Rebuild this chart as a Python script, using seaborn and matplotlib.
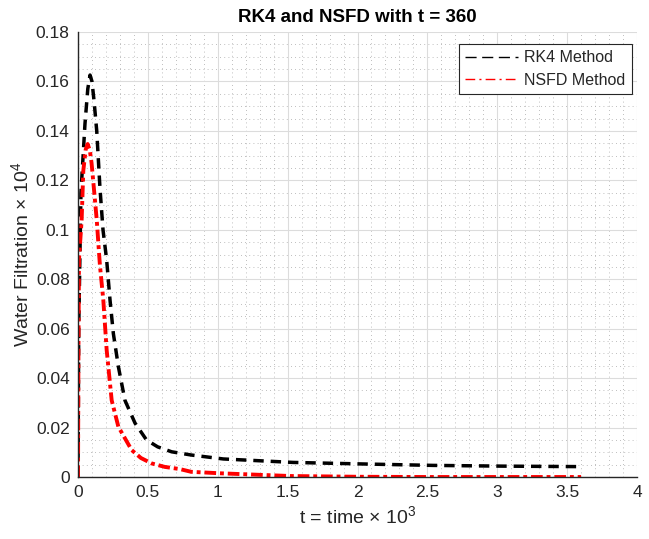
import matplotlib
matplotlib.use('Agg')
import matplotlib.pyplot as plt
from matplotlib.ticker import MultipleLocator
import pandas as pd
import seaborn as sns

# values (x in 10^3, y in 10^4)
rk4_t = [0.0, 0.005, 0.014, 0.021, 0.05, 0.07, 0.086, 0.1, 0.115, 0.134, 0.157, 0.179,
         0.205, 0.229, 0.253, 0.289, 0.336, 0.408, 0.49, 0.57, 0.67, 0.81, 1.04, 1.54,
         2.02, 2.54, 3.04, 3.6]
rk4_y = [0.0, 0.06, 0.0906, 0.115, 0.143, 0.157, 0.1626, 0.160, 0.152, 0.140, 0.117,
         0.0999, 0.0878, 0.0716, 0.058, 0.0446, 0.031, 0.0218, 0.015, 0.0122, 0.0102,
         0.0089, 0.0073, 0.0059, 0.0053, 0.0047, 0.0044, 0.0042]

nsfd_t = [0.0, 0.003, 0.007, 0.026, 0.038, 0.055, 0.069, 0.085, 0.097, 0.11, 0.134,
          0.15, 0.157, 0.181, 0.205, 0.241, 0.289, 0.384, 0.45, 0.527, 0.62, 0.73, 0.81,
          1.02, 1.52, 2.0, 2.5, 3.0, 3.6]
nsfd_y = [0.0, 0.05, 0.088, 0.104, 0.124, 0.1325, 0.1347, 0.132, 0.127, 0.119, 0.104,
          0.091, 0.0855, 0.0716, 0.0514, 0.031, 0.0203, 0.0109, 0.0077, 0.0055, 0.0041,
          0.0032, 0.0021, 0.0015, 0.0004, 0.0001, 0.0, 0.0, 0.0]

rk4 = pd.DataFrame({'t': rk4_t, 'y': rk4_y})
nsfd = pd.DataFrame({'t': nsfd_t, 'y': nsfd_y})

sns.set_style('white')
plt.rcParams['font.family'] = ['Liberation Sans', 'DejaVu Sans']
plt.rcParams['mathtext.fontset'] = 'custom'
plt.rcParams['mathtext.rm'] = 'Liberation Sans'

fig = plt.figure(figsize=(6.49, 5.39), dpi=100)
ax = fig.add_axes([0.1202, 0.115, 0.8613, 0.8256])

sns.lineplot(data=rk4, x='t', y='y', ax=ax, color='black', linewidth=2.5,
             linestyle=(0, (3, 2)), label='RK4 Method')
sns.lineplot(data=nsfd, x='t', y='y', ax=ax, color='red', linewidth=2.8,
             linestyle=(0, (3, 1, 1, 1)), label='NSFD Method')

ax.set_xlim(0, 4)
ax.set_ylim(0, 0.18)
ax.set_xticks([0, 0.5, 1, 1.5, 2, 2.5, 3, 3.5, 4])
ax.set_xticklabels(['0', '0.5', '1', '1.5', '2', '2.5', '3', '3.5', '4'])
ax.set_yticks([0, 0.02, 0.04, 0.06, 0.08, 0.1, 0.12, 0.14, 0.16, 0.18])
ax.set_yticklabels(['0', '0.02', '0.04', '0.06', '0.08', '0.1', '0.12', '0.14', '0.16', '0.18'])
ax.xaxis.set_minor_locator(MultipleLocator(0.1))
ax.yaxis.set_minor_locator(MultipleLocator(0.005))

ax.grid(which='major', color='#dcdcdc', linewidth=0.8, linestyle='-')
ax.grid(which='minor', color='#a8a8a8', linewidth=0.6, linestyle=(0, (1, 4)))
ax.set_axisbelow(True)

for s in ['top', 'right']:
    ax.spines[s].set_visible(False)
for s in ['left', 'bottom']:
    ax.spines[s].set_color('#262626')
    ax.spines[s].set_linewidth(1.0)

ax.tick_params(axis='both', which='major', direction='in', length=5, labelsize=12.5,
               colors='#262626', labelcolor='#262626', pad=6)
ax.tick_params(axis='both', which='minor', length=0)

ax.set_title('RK4 and NSFD with t = 360', fontsize=13.5, fontweight='bold', color='black',
             pad=7)
ax.set_xlabel(r't = time $\times$ 10$^3$', fontsize=14, color='#262626')
ax.set_ylabel(r'Water Filtration $\times$ 10$^4$', fontsize=14, color='#262626', labelpad=2)

leg = ax.legend(loc='upper right', bbox_to_anchor=(0.991, 0.973), borderaxespad=0,
                fontsize=11.5, frameon=True, fancybox=False, edgecolor='#262626',
                framealpha=1, borderpad=0.4, handlelength=3.3, labelspacing=0.45,
                handletextpad=0.4)
leg.get_frame().set_linewidth(0.8)
leg_lines = leg.get_lines()
for ln in leg_lines:
    ln.set_linewidth(1.0)
leg_lines[0].set_dashes([8, 4])
leg_lines[1].set_dashes([7, 3, 1.5, 3])

fig.savefig('out.png', dpi=100)
